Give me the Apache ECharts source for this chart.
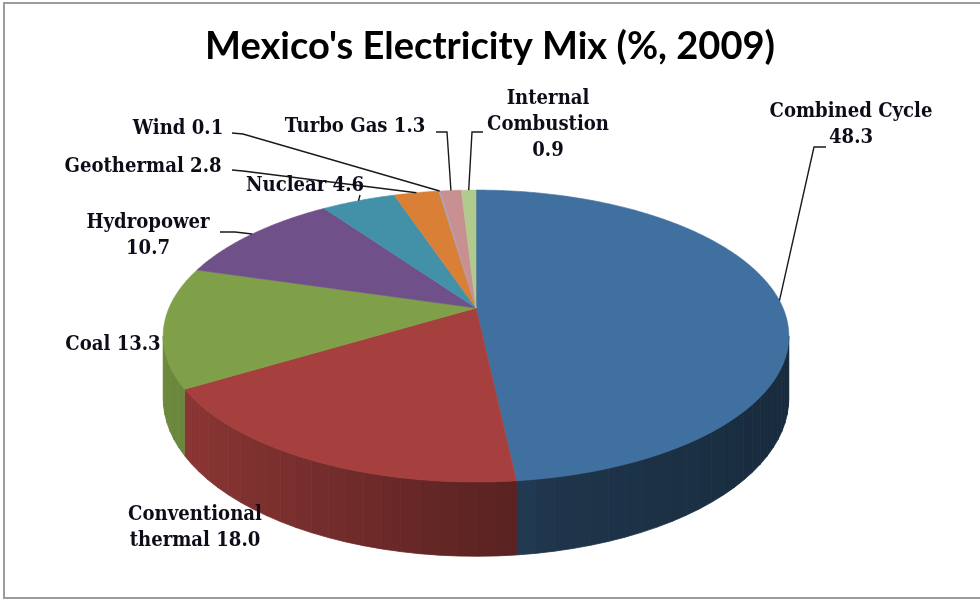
<!DOCTYPE html>
<html>
<head>
<meta charset="utf-8">
<script src="https://cdn.jsdelivr.net/npm/echarts@6/dist/echarts.min.js"></script>
<style>
  html, body { margin: 0; padding: 0; background: #fff; }
  #chart { width: 980px; height: 600px; }
</style>
</head>
<body>
<div id="chart"></div>
<script>
// Electricity generation mix, Mexico 2009 (percent of total)
const categories = ['Combined Cycle', 'Conventional thermal', 'Coal', 'Hydropower', 'Nuclear',
                    'Geothermal', 'Wind', 'Turbo Gas', 'Internal Combustion'];
const shares = [48.3, 18.0, 13.3, 10.7, 4.6, 2.8, 0.1, 1.3, 0.9];
// Label wording with its line breaks; the value is appended
const labelNames = ['Combined Cycle\n', 'Conventional\nthermal ', 'Coal ', 'Hydropower\n', 'Nuclear ',
                    'Geothermal ', 'Wind ', 'Turbo Gas ', 'Internal\nCombustion\n'];
const chartTitle = "Mexico's Electricity Mix (%, 2009)";

// Slice colours (top faces)
const sliceColors = ['#40709f', '#a5403e', '#7fa048', '#6f5089', '#4391a9',
                     '#d98036', '#9fa5c8', '#c89090', '#b1cb8f'];

// Label block centres and leader lines (start, elbow) in pixels
const labelPos = [[851, 125], [195, 528], [113, 345], [148, 236], [305, 186],
                  [143, 167], [178, 129], [355, 127], [548, 125]];
const leaders = [
  [[826, 147], [814, 147]],
  null,
  null,
  [[220, 232], [235, 232]],
  [[360, 195], null],
  [[232, 170], [243, 171]],
  [[232, 133], [243, 134]],
  [[436, 132], [447, 132]],
  [[483, 132], [472, 132]]
];

// 3-D pie projection: centre, radii, perspective strength, thickness
const CX = 476, CY = 308, RX = 307, RY = 140.6, PERSP = 0.192, DEPTH = 60;

// Side-wall brightness against the horizontal direction of the wall's normal
const WALL_LIGHT = [[-1, 0.87], [-0.85, 0.84], [0.1, 0.54], [0.2, 0.47], [1, 0.38]];

const total = shares.reduce((a, b) => a + b, 0);
const starts = [];
shares.reduce((acc, v) => { starts.push(acc); return acc + v; }, 0);

function project(theta, drop) {
  const u = Math.sin(theta), v = -Math.cos(theta);
  const w = 1 - PERSP * v;
  return [CX + RX * u / w, CY + RY * v / w + (drop ? DEPTH / w : 0)];
}
function wallLight(u) {
  for (let k = 1; k < WALL_LIGHT.length; k++) {
    const [x0, y0] = WALL_LIGHT[k - 1], [x1, y1] = WALL_LIGHT[k];
    if (u <= x1) return y0 + (y1 - y0) * (u - x0) / (x1 - x0);
  }
  return WALL_LIGHT[WALL_LIGHT.length - 1][1];
}
function shade(hex, f) {
  const n = parseInt(hex.slice(1), 16);
  const r = Math.round(((n >> 16) & 255) * f), g = Math.round(((n >> 8) & 255) * f), b = Math.round((n & 255) * f);
  return 'rgb(' + r + ',' + g + ',' + b + ')';
}

// Horizontal squeeze so the fonts take the same width as the original typefaces
const measureCtx = document.createElement('canvas').getContext('2d');
const LABEL_FONT = 'bold 20px "DejaVu Serif"';
measureCtx.font = LABEL_FONT;
const labelScale = 163 / measureCtx.measureText('Combined Cycle').width;
const TITLE_FONT = 'bold 38px Lato';
measureCtx.font = TITLE_FONT;
const titleScale = 570 / measureCtx.measureText(chartTitle).width;

// Front wall is visible between the two silhouette points
const WALL0 = Math.acos(-PERSP), WALL1 = 2 * Math.PI - Math.acos(-PERSP);

function renderSlice(params, api) {
  const i = params.dataIndex;
  const val = api.value(0);
  const a0 = starts[i] / total * 2 * Math.PI;
  const a1 = (starts[i] + val) / total * 2 * Math.PI;
  const color = sliceColors[i];
  const children = [];

  // top face
  const pts = [[CX, CY]];
  const n = Math.max(2, Math.ceil((a1 - a0) / (0.5 * Math.PI / 180)));
  for (let k = 0; k <= n; k++) pts.push(project(a0 + (a1 - a0) * k / n, false));
  children.push({ type: 'polygon', z2: 10, shape: { points: pts },
    style: { fill: color, stroke: color, lineWidth: 0.6 } });

  // outer wall, drawn in shaded bands
  const lo = Math.max(a0, WALL0), hi = Math.min(a1, WALL1);
  if (lo < hi) {
    const step = 3 * Math.PI / 180;
    const m = Math.max(1, Math.ceil((hi - lo) / step));
    for (let k = 0; k < m; k++) {
      const t1 = lo + (hi - lo) * k / m, t2 = lo + (hi - lo) * (k + 1) / m;
      const c = shade(color, wallLight(Math.sin((t1 + t2) / 2)));
      children.push({ type: 'polygon', z2: 1,
        shape: { points: [project(t1, false), project(t2, false), project(t2, true), project(t1, true)] },
        style: { fill: c, stroke: c, lineWidth: 0.8 } });
    }
  }

  // leader line to the rim at the slice's middle angle
  const ld = leaders[i];
  if (ld) {
    const end = project((a0 + a1) / 2, false);
    const line = [ld[0]];
    if (ld[1]) line.push(ld[1]);
    line.push(end);
    children.push({ type: 'polyline', z2: 25, shape: { points: line },
      style: { stroke: '#1a1a1a', lineWidth: 1.4, fill: null } });
  }

  // data label
  children.push({ type: 'text', z2: 30, x: labelPos[i][0], y: labelPos[i][1], scaleX: labelScale,
    style: { text: labelNames[i] + val.toFixed(1), x: 0, y: 0, font: LABEL_FONT, fill: '#0d0d1a',
      align: 'center', verticalAlign: 'middle', lineHeight: 26 } });

  return { type: 'group', children };
}

const chart = echarts.init(document.getElementById('chart'), null, { renderer: 'canvas' });
chart.setOption({
  animation: false,
  backgroundColor: '#ffffff',
  graphic: [
    { type: 'rect', shape: { x: 4, y: 3, width: 1000, height: 595 },
      style: { fill: null, stroke: '#9c9c9c', lineWidth: 2 } },
    { type: 'text', x: 490, y: 47, scaleX: titleScale,
      style: { text: chartTitle, x: 0, y: 0, font: TITLE_FONT, fill: '#000',
        align: 'center', verticalAlign: 'middle' } }
  ],
  series: [{
    type: 'custom',
    coordinateSystem: 'none',
    renderItem: renderSlice,
    data: shares.map((v, i) => ({ name: categories[i], value: [v] }))
  }]
});
</script>
</body>
</html>
